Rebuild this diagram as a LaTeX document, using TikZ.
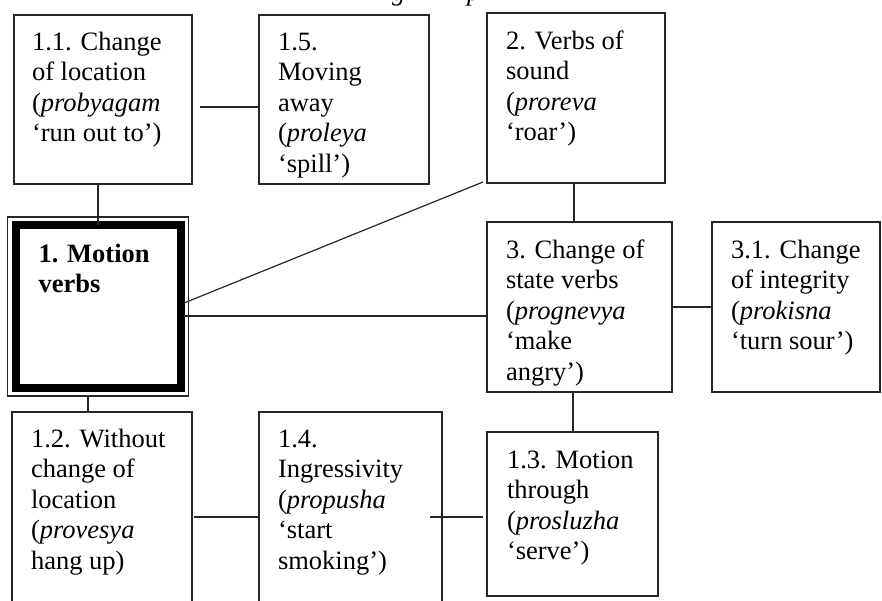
\documentclass[tikz,border=0pt]{standalone}
\usepackage{fontspec}
\setmainfont{Liberation Serif}
\begin{document}
\begin{tikzpicture}[x=1pt,y=-1pt,
  box/.style={draw=black!85, line width=1.2pt, rectangle, inner sep=0pt, outer sep=0pt, anchor=north west},
  txt/.style={inner sep=0pt, outer sep=0pt, anchor=base west, font=\fontsize{26.5}{30.5}\selectfont},
  conn/.style={line width=1.2pt, draw=black!85}]
\useasboundingbox (0,0) rectangle (882,600);
\begin{scope}
\clip (0,0) rectangle (882,600);
% cut-off title (only descenders visible)
\node[txt, font=\fontsize{26.5}{30.5}\selectfont\itshape] (tg) at (392,0) {g};
\node[txt, font=\fontsize{26.5}{30.5}\selectfont\itshape] (tp) at (467,0) {p};
% boxes
\node[box, minimum width=178, minimum height=169] (b11) at (14,15) {};
\node[box, minimum width=170, minimum height=169] (b15) at (259,15) {};
\node[box, minimum width=178, minimum height=170] (b2) at (487,13) {};
\node[box, minimum width=181, minimum height=179] (b1o) at (7.5,217) {};
\node[box, draw=black, line width=8pt, minimum width=165, minimum height=163] (b1i) at (15.5,225) {};
\node[box, minimum width=185, minimum height=170] (b3) at (487,222) {};
\node[box, minimum width=168, minimum height=170] (b31) at (712,222) {};
\node[box, minimum width=180, minimum height=196] (b12) at (12,412) {};
\node[box, minimum width=183, minimum height=196] (b14) at (259,412) {};
\node[box, minimum width=171, minimum height=164] (b13) at (487,432) {};
% texts
\node[txt] (t11) at ([shift={(18,35)}]b11.north west) {\parbox[t]{170pt}{\raggedright 1.1. Change\\of location\\(\textit{probyagam}\\‘run out to’)}};
\node[txt] (t15) at ([shift={(19,35)}]b15.north west) {\parbox[t]{160pt}{\raggedright 1.5.\\Moving\\away\\(\textit{proleya}\\‘spill’)}};
\node[txt] (t2) at ([shift={(19,36)}]b2.north west) {\parbox[t]{160pt}{\raggedright 2. Verbs of\\sound\\(\textit{proreva}\\‘roar’)}};
\node[txt] (t1) at ([shift={(31,45)}]b1o.north west) {\parbox[t]{150pt}{\raggedright\bfseries 1. Motion\\verbs}};
\node[txt] (t3) at ([shift={(19,36)}]b3.north west) {\parbox[t]{170pt}{\raggedright 3. Change of\\state verbs\\(\textit{prognevya}\\‘make\\angry’)}};
\node[txt] (t31) at ([shift={(19,36)}]b31.north west) {\parbox[t]{160pt}{\raggedright 3.1. Change\\of integrity\\(\textit{prokisna}\\‘turn sour’)}};
\node[txt] (t12) at ([shift={(19,35)}]b12.north west) {\parbox[t]{170pt}{\raggedright 1.2. Without\\change of\\location\\(\textit{provesya}\\hang up)}};
\node[txt] (t14) at ([shift={(19,35)}]b14.north west) {\parbox[t]{170pt}{\raggedright 1.4.\\Ingressivity\\(\textit{propusha}\\‘start\\smoking’)}};
\node[txt] (t13) at ([shift={(20,36)}]b13.north west) {\parbox[t]{160pt}{\raggedright 1.3. Motion\\through\\(\textit{prosluzha}\\‘serve’)}};
% connectors
\coordinate (c0) at ([shift={(8,92)}]b11.north east);
\draw[conn] (c0) -- (c0 -| b15.west);
\coordinate (c1) at ([shift={(84,0)}]b11.south west);
\draw[conn] (c1) -- (c1 |- b1i.north);
\coordinate (c2a) at ([shift={(3.5,78)}]b1i.north east);
\coordinate (c2b) at ([shift={(-4,-1)}]b2.south west);
\draw[conn] (c2a) -- (c2b);
\coordinate (c3) at ([shift={(3.5,91)}]b1i.north east);
\draw[conn] (c3) -- (c3 -| b3.west);
\coordinate (c4) at ([shift={(87,0)}]b2.south west);
\draw[conn] (c4) -- (c4 |- b3.north);
\draw[conn] (b3) -- (b31);
\coordinate (c5) at ([shift={(80.5,0)}]b1o.south west);
\draw[conn] (c5) -- (c5 |- b12.north);
\coordinate (c6) at ([shift={(86,0)}]b3.south west);
\draw[conn] (c6) -- (c6 |- b13.north);
\coordinate (c7) at ([shift={(2,105)}]b12.north east);
\draw[conn] (c7) -- (c7 -| b14.west);
\coordinate (c8) at ([shift={(-12,105)}]b14.north east);
\coordinate (c9) at ([shift={(-4,0)}]b13.west);
\draw[conn] (c8) -- (c8 -| c9);
\end{scope}
\end{tikzpicture}
\end{document}
